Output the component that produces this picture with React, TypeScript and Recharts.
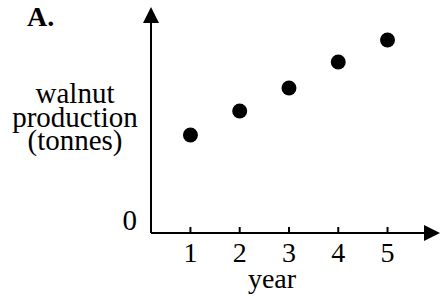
import { ScatterChart, Scatter, XAxis, YAxis, Customized } from 'recharts'

// walnut production by year
const years = [1, 2, 3, 4, 5]
const production = [4.9, 6.1, 7.25, 8.55, 9.65]
const xTicks = [1, 2, 3, 4, 5]
const yTicks = [0]
const yLabelLines = ['walnut', 'production', '(tonnes)']

const data = years.map((year, i) => ({ year, production: production[i] }))

const FONT = '"Liberation Serif", "Times New Roman", serif'
const FONT_SIZE = 28

const XTick = ({ x, y, payload }: any) => (
  <text x={x} y={y} dy={29} textAnchor="middle" fill="#000" fontFamily={FONT} fontSize={FONT_SIZE}>
    {payload.value}
  </text>
)

const YTick = ({ x, y, payload }: any) => (
  <text x={x} y={y} dy={-3} textAnchor="end" fill="#000" fontFamily={FONT} fontSize={29}>
    {payload.value}
  </text>
)

const Dot = (props: any) => <circle cx={props.cx} cy={props.cy} r={7.5} fill="#000" />

export default function App() {
  return (
    <div style={{ position: 'absolute', left: 0, top: 0, width: 441, height: 300, background: '#fff' }}>
      <svg width={0} height={0} style={{ position: 'absolute' }}>
        <defs>
          <marker
            id="arrow"
            viewBox="0 0 16 16"
            refX={0}
            refY={8}
            markerWidth={16}
            markerHeight={16}
            markerUnits="userSpaceOnUse"
            orient="auto-start-reverse"
          >
            <path d="M0,0 L16,8 L0,16 Z" fill="#000" />
          </marker>
        </defs>
      </svg>
      <ScatterChart width={441} height={300} margin={{ top: 23, right: 17, bottom: 0, left: 91 }}>
        <XAxis
          type="number"
          dataKey="year"
          domain={[0.2, 5.74]}
          ticks={xTicks}
          height={67}
          tickSize={-6}
          tickMargin={6}
          tick={<XTick />}
          axisLine={{ stroke: '#000', strokeWidth: 2, markerEnd: 'url(#arrow)' }}
          tickLine={{ stroke: '#000', strokeWidth: 2 }}
          allowDataOverflow
          label={{
            content: ({ viewBox }: any) => (
              <text
                x={viewBox.x + 121}
                y={viewBox.y + 55}
                textAnchor="middle"
                fill="#000"
                fontFamily={FONT}
                fontSize={FONT_SIZE}
              >
                year
              </text>
            ),
          }}
        />
        <YAxis
          type="number"
          dataKey="production"
          domain={[0, 10.5]}
          ticks={yTicks}
          width={60}
          tickLine={false}
          tickSize={6}
          tickMargin={8}
          tick={<YTick />}
          axisLine={{ stroke: '#000', strokeWidth: 2, markerStart: 'url(#arrow)' }}
          allowDataOverflow
          label={{
            content: () => (
              <text textAnchor="middle" fill="#000" fontFamily={FONT} fontSize={29}>
                {yLabelLines.map((line, i) => (
                  <tspan key={line} x={75} y={103 + i * 23.5}>
                    {line}
                  </tspan>
                ))}
              </text>
            ),
          }}
        />
        <Scatter data={data} shape={<Dot />} isAnimationActive={false} />
        <Customized
          component={() => (
            <text x={27} y={26} fill="#000" fontFamily={FONT} fontSize={FONT_SIZE} fontWeight="bold">
              A.
            </text>
          )}
        />
      </ScatterChart>
    </div>
  )
}
